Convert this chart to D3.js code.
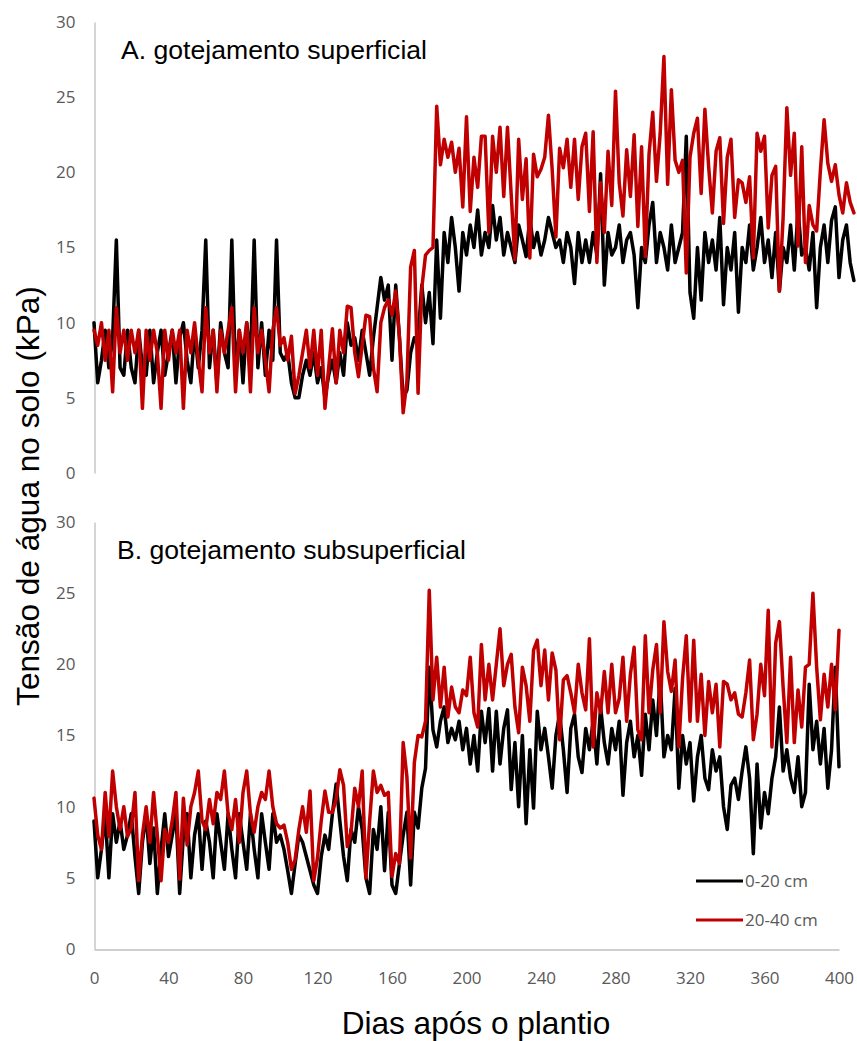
<!DOCTYPE html>
<html>
<head>
<meta charset="utf-8">
<script src="https://cdn.jsdelivr.net/npm/d3@7"></script>
<style>
   body { margin: 0; background: #fff; }
</style>
</head>
<body>
<div id="chart"></div>
<script>
// tensao de agua no solo - leituras a cada 2 dias
var stepDias = 2;

// A. gotejamento superficial
var superficial020 = [
   10, 6, 7.5, 9.5, 7, 9, 15.5, 7, 6.5, 9.5,
   7, 6, 9.5, 7, 6.5, 9.5, 6, 8, 9.5, 6.5,
   8, 9.5, 6, 9, 10, 7.5, 6, 9.5, 7, 9.5,
   15.5, 7, 9.5, 6, 10, 8, 7, 15.5, 6.5, 9.5,
   6, 10, 7.5, 15.5, 7, 10, 6.5, 9.5, 7.5, 15.5,
   8, 7.5, 8, 6, 5, 5, 6.5, 7.5, 6.5, 8,
   6, 7, 5, 6.5, 7.5, 6, 8, 6.5, 10, 8.5,
   9, 7.5, 9.5, 8, 6.5, 9, 11, 13, 11.5, 12.5,
   7.5, 12.5, 9, 5, 5.5, 8, 9, 9, 12.5, 10,
   12, 8.6, 15.5, 10.3, 16, 14, 17, 15, 12.1, 16,
   14.5, 16.5, 15, 17.5, 14.5, 16, 15, 17.8, 15.5, 17,
   14.5, 16, 15, 14, 16.5, 15.5, 14.4, 17, 15, 16,
   14.5, 15.5, 17, 16, 15, 15.5, 14, 16, 15, 12.6,
   16, 14, 15.5, 14, 16, 14.5, 19.9, 12.5, 16, 14.5,
   15, 16.5, 14, 15.5, 16, 14.5, 11, 15, 14, 16.5,
   18, 14, 16, 15, 13.5, 16.5, 14, 15, 16, 22.4,
   12, 10.3, 15, 11.5, 16, 14, 15.5, 13.5, 17, 11.2,
   15, 13.5, 16, 10.7, 15, 14, 16.5, 13.5, 15, 17,
   14, 15.5, 13, 16, 12.1, 15, 14, 16.5, 13.5, 17.5,
   14.5, 15, 13.5, 16, 11, 15, 16.5, 14, 16.8, 17.7,
   13, 15.5, 16.5, 14, 12.8
];
var superficial2040 = [
   9.5, 8.5, 10, 7.5, 9.5, 5.4, 11, 8, 9.5, 7.5,
   9.5, 8, 9.5, 4.3, 9.5, 7.5, 9.5, 8, 4.3, 9.5,
   7.5, 9.5, 8, 9.5, 4.3, 9.5, 8, 10, 7.5, 5.4,
   11, 8, 9.5, 5.4, 9.5, 8, 9.5, 11, 5.4, 9.5,
   8, 10, 5.4, 11, 8, 9.5, 7.5, 5.4, 9.5, 11,
   8.5, 9, 7.5, 9.1, 5.3, 6.5, 8, 9.5, 7, 9.5,
   6.5, 9.5, 4.3, 7, 9.6, 6, 9.5, 8, 11.1, 11,
   8, 6.4, 8.5, 10.5, 10.4, 7, 5.4, 10, 11, 11.5,
   10.5, 12.1, 9, 4, 6.1, 13.7, 14.8, 5.3, 12.3, 14.5,
   14.8, 15, 24.4, 20.5, 22.2, 21, 22, 20, 21.6, 17.7,
   23.7, 17.4, 21, 19, 22.4, 22.4, 16, 22.4, 20, 23,
   18.4, 23, 18.5, 14.2, 22.2, 18.2, 20.9, 14.3, 21.2, 19.7,
   20.2, 21, 23.8, 20.2, 15.7, 21.6, 20.3, 22.2, 19, 22.2,
   18.2, 21.7, 22.6, 17.4, 22.7, 14, 19.3, 16, 21.4, 17.8,
   25.4, 19.3, 17.1, 21.5, 18.4, 22.5, 16.4, 21.7, 14.4, 21.2,
   24, 19.4, 22.6, 27.7, 19.2, 25.5, 20.8, 20, 20.8, 13.3,
   21, 22.6, 23.6, 18.6, 24.2, 20.4, 17.3, 21.4, 22.3, 16.6,
   21, 22.2, 17, 19.5, 19.3, 18, 19.7, 14.3, 22.6, 21.4,
   22.4, 16.3, 19.8, 20.4, 12.1, 17, 24.3, 19.8, 22.6, 15.1,
   21.7, 14, 17.8, 16.5, 16.1, 20.1, 23.5, 20.6, 19.4, 20.5,
   18.5, 17.3, 19.3, 18, 17.3
];

// B. gotejamento subsuperficial
var subsuperficial020 = [
   9, 5, 7, 9.5, 5, 9.5, 7.5, 9, 7, 8,
   9.5, 6.5, 3.9, 7.5, 9.5, 6, 8.5, 3.9, 7, 9.5,
   6.5, 8, 9.5, 3.9, 8, 9.5, 5, 8, 9.5, 5.6,
   9, 7.5, 5, 9.5, 7.5, 5.6, 9.5, 7, 5, 9.5,
   7.5, 5.6, 9.5, 7, 5, 9.5, 7.5, 5.6, 9.5, 7.5,
   8, 7, 5.5, 3.9, 6, 8, 7.5, 6.5, 5.5, 4.5,
   3.9, 6.5, 8, 7, 9.5, 11.6, 9, 6.5, 4.8, 8.4,
   7.5, 10, 8.4, 5, 3.9, 8.4, 7, 10, 5.5, 9.6,
   4.5, 3.9, 6, 8, 9.6, 4.5, 9.6, 8.5, 11.3, 12.7,
   19.8, 15.4, 14.2, 16, 17, 14.5, 15.5, 14.7, 16, 14,
   15.5, 13, 15, 12.5, 16.7, 14.5, 16.9, 12.5, 16.7, 13,
   15.5, 16.8, 11.2, 14.5, 10, 15, 8.8, 14, 9.9, 16.7,
   14, 15.5, 13.5, 11.3, 15, 16.5, 14, 11, 15.5, 16.5,
   13.5, 12.4, 15.5, 14, 16, 13, 17, 14.5, 13, 15.5,
   14, 16, 10.8, 14.5, 16, 13.5, 15, 12.2, 16.5, 14,
   17.5, 15, 19.1, 13.5, 15, 14, 18.3, 11.3, 15, 13,
   14.5, 10.4, 13.5, 15, 12, 11.2, 14, 12.5, 13.5, 10,
   8.4, 11.5, 12, 10.5, 12.5, 14.2, 12, 6.7, 13, 8.5,
   11, 9.5, 12, 13.5, 17, 12.5, 14, 12, 11, 13.5,
   10, 11, 18.6, 14, 16, 13, 15.5, 11.3, 14, 19.8,
   12.8
];
var subsuperficial2040 = [
   10.6, 8, 7, 11, 7.9, 12.5, 10, 8.4, 10, 7.9,
   8.5, 11, 4.8, 8, 10, 7.5, 11, 8, 4.8, 8.4,
   7.5, 9, 11, 4.9, 10.6, 7.3, 10, 11, 12.5, 9,
   8.4, 10.5, 8.8, 11, 10.5, 12.5, 9.5, 8.4, 10.5, 7.5,
   11, 12.5, 9.5, 8.2, 10, 11, 10.5, 12.5, 10, 8.8,
   8.5, 8.7, 7.5, 5.6, 6.3, 8.4, 10, 8.2, 11.1, 4.8,
   6.4, 9, 11.1, 9.6, 9.6, 10.5, 12.6, 11.5, 7.2, 8.2,
   11.3, 10, 12.5, 5, 9, 12.5, 11, 11.5, 10.8, 11,
   5.1, 6.7, 6, 14.5, 12.1, 6.4, 13.1, 15, 14.9, 16,
   25.2, 17.5, 20.5, 17, 19.8, 16.3, 18.4, 17, 16.6, 18.2,
   17.8, 20.5, 16.6, 15.6, 21.4, 17.5, 20, 17.5, 20, 22.5,
   18.5, 20, 20.7, 17, 15.2, 19.8, 18.5, 16, 21, 21.7,
   18.5, 21, 17.5, 20.8, 19.6, 14.7, 18.9, 19.2, 18, 16.6,
   20, 18, 16.8, 21.8, 14.2, 18, 16.6, 19.5, 16.6, 20,
   16.6, 17.6, 20.5, 16, 19.3, 21.2, 15.4, 14.7, 22, 16.6,
   19.6, 21.4, 16.6, 23, 19.5, 18.1, 20.3, 14.2, 19, 22,
   16, 21.7, 16, 19.3, 15, 18.8, 16.6, 18.6, 14.2, 18.8,
   18.6, 17.5, 18, 16.5, 16.3, 18, 20.3, 14.7, 16.5, 20,
   17.8, 23.8, 14.2, 21.5, 23, 18.4, 14.5, 20.5, 14.5, 18.2,
   15.6, 19.8, 20, 25, 19.8, 16.1, 19.3, 17, 20, 16.8,
   22.4
];

var xTicks = [0, 40, 80, 120, 160, 200, 240, 280, 320, 360, 400];
var yTicks = [0, 5, 10, 15, 20, 25, 30];
var legendLabels = ["0-20 cm", "20-40 cm"];
var colors = ["#000000", "#c00000"];

var svgWidth = 857;
var svgHeight = 1041;

var svg = d3.select("#chart")
   .append("svg")
   .attr("width", svgWidth)
   .attr("height", svgHeight)
   .style("background", "#fff");

// scales
var xScale = d3.scaleLinear().domain([0, 400]).range([94, 839]);
var yScaleA = d3.scaleLinear().domain([0, 30]).range([473, 22]);
var yScaleB = d3.scaleLinear().domain([0, 30]).range([949, 522]);

var tickFont = "'Open Sans', sans-serif";

function styleAxis(g) {
   g.attr("font-family", tickFont)
      .attr("font-size", 17)
      .attr("color", "#595959");
   g.select(".domain")
      .attr("stroke", "#bfbfbf")
      .attr("stroke-width", 1.3);
}

// y axes
svg.append("g")
   .attr("transform", "translate(94.5,0)")
   .call(d3.axisLeft(yScaleA).tickValues(yTicks).tickSize(0).tickPadding(19))
   .call(styleAxis);

svg.append("g")
   .attr("transform", "translate(94.5,0)")
   .call(d3.axisLeft(yScaleB).tickValues(yTicks).tickSize(0).tickPadding(19))
   .call(styleAxis);

// x axis
svg.append("g")
   .attr("transform", "translate(0,949.5)")
   .call(d3.axisBottom(xScale).tickValues(xTicks).tickSize(0).tickPadding(22))
   .call(styleAxis);

// lines
function drawPanel(series, yScale) {
   var line = d3.line()
      .x((d, i) => xScale(i * stepDias))
      .y(d => yScale(d));
   series.forEach(function (values, k) {
      svg.append("path")
         .datum(values)
         .attr("fill", "none")
         .attr("stroke", colors[k])
         .attr("stroke-width", 3.5)
         .attr("stroke-linejoin", "round")
         .attr("stroke-linecap", "round")
         .attr("d", line);
   });
}
drawPanel([superficial020, superficial2040], yScaleA);
drawPanel([subsuperficial020, subsuperficial2040], yScaleB);

// panel titles
var titleFont = "'Liberation Sans', Arial, sans-serif";
svg.append("text")
   .attr("x", 121)
   .attr("y", 59)
   .attr("font-family", titleFont)
   .attr("font-size", 26.6)
   .attr("fill", "#000")
   .text("A. gotejamento superficial");

svg.append("text")
   .attr("x", 117)
   .attr("y", 559)
   .attr("font-family", titleFont)
   .attr("font-size", 26.6)
   .attr("fill", "#000")
   .text("B. gotejamento subsuperficial");

// axis titles
svg.append("text")
   .attr("transform", "translate(39,496) rotate(-90)")
   .attr("text-anchor", "middle")
   .attr("font-family", titleFont)
   .attr("font-size", 31.6)
   .attr("fill", "#000")
   .text("Tensão de água no solo (kPa)");

svg.append("text")
   .attr("x", 476)
   .attr("y", 1034)
   .attr("text-anchor", "middle")
   .attr("font-family", titleFont)
   .attr("font-size", 31.6)
   .attr("fill", "#000")
   .text("Dias após o plantio");

// legend
var legend = svg.append("g")
   .attr("transform", "translate(696,881)");

legendLabels.forEach(function (label, k) {
   legend.append("line")
      .attr("x1", 0)
      .attr("x2", 47)
      .attr("y1", k * 39)
      .attr("y2", k * 39)
      .attr("stroke", colors[k])
      .attr("stroke-width", 3.2);
   legend.append("text")
      .attr("x", 49)
      .attr("y", k * 39)
      .attr("dy", "0.35em")
      .attr("font-family", tickFont)
      .attr("font-size", 17)
      .attr("fill", "#595959")
      .text(label);
});
</script>
</body>
</html>
